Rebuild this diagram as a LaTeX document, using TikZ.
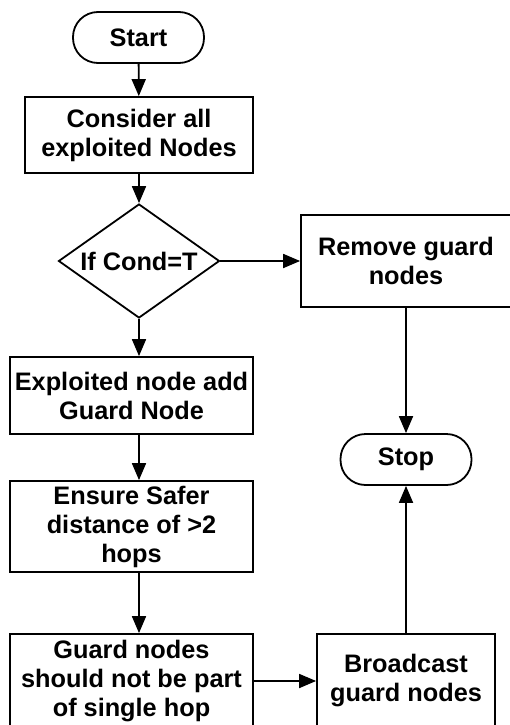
\documentclass[tikz,border=0pt]{standalone}
\usepackage{fontspec}
\setmainfont{Liberation Sans}
\usetikzlibrary{arrows.meta,shapes.geometric,calc}
\begin{document}
\begin{tikzpicture}[x=1pt,y=-1pt,
  every node/.style={font=\bfseries\fontsize{25.3}{29}\selectfont, align=center,
    inner sep=0pt, line width=1.8pt},
  procbox/.style 2 args={draw, rectangle, minimum width=#1, minimum height=#2},
  terminal/.style={draw, rectangle, rounded corners=25pt,
    minimum width=131pt, minimum height=51pt},
  decision/.style={draw, diamond, aspect=1.41,
    minimum width=161pt, minimum height=114pt},
  flow/.style={line width=1.8pt, -{Triangle[length=17pt,width=14pt]}}
]
\useasboundingbox (0,0) rectangle (510,725);
\clip (0,0) rectangle (510,725);

% left column
\node[terminal] (start) at (138.5,37.5) {Start};
\node[procbox={228pt}{76pt}] (consider) at (139,135) {Consider all\\exploited Nodes};
\node[decision] (cond) at (139,261) {If Cond=T};
\node[procbox={243pt}{77pt}] (exploited) at (131.5,395.5) {Exploited node add\\Guard Node};
\node[procbox={243pt}{91pt}] (ensure) at (131.5,526.5) {Ensure Safer\\distance of >2\\hops};
\node[procbox={243pt}{94pt}] (guard) at (131.5,681) {Guard nodes\\should not be part\\of single hop};

% right column
\node[procbox={210pt}{92pt}] (remove) at (406,261) {Remove guard\\nodes};
\node[terminal] (stop) at (406,459.5) {Stop};
\node[procbox={178pt}{94pt}] (broadcast) at (406,681) {Broadcast\\guard nodes};

% connectors
\draw[flow] (start) -- (consider);
\draw[flow] (consider.south -| cond) -- (cond.north);
\draw[flow] (cond.east) -- (remove.west);
\draw[flow] (cond.south) -- (cond.south |- exploited.north);
\draw[flow] (cond |- exploited.south) -- (cond |- ensure.north);
\draw[flow] (cond |- ensure.south) -- (cond |- guard.north);
\draw[flow] (guard.east) -- (broadcast.west);
\draw[flow] (broadcast.north) -- (stop.south);
\draw[flow] (remove.south) -- (stop.north);
\end{tikzpicture}
\end{document}
